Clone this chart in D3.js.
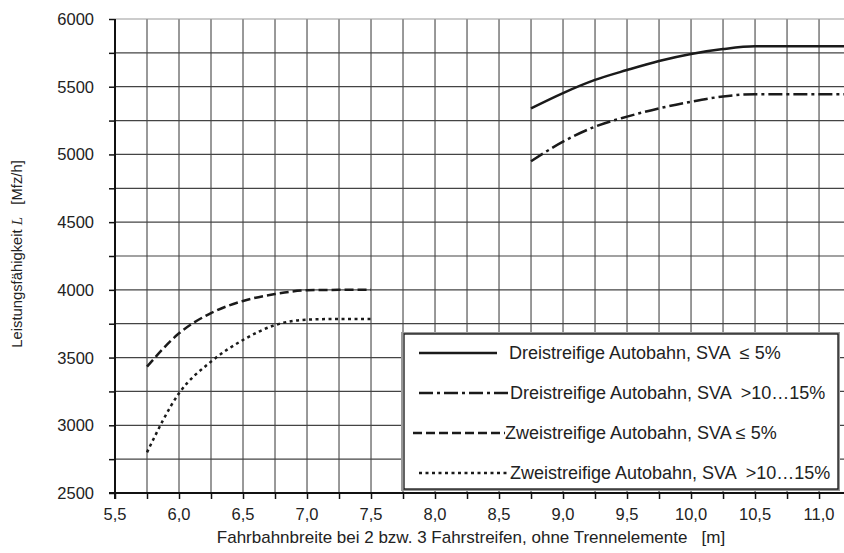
<!DOCTYPE html>
<html>
<head>
<meta charset="utf-8">
<script src="https://cdn.jsdelivr.net/npm/d3@7"></script>
<style>
  body { margin: 0; background: #fff; }
  text { font-family: "Liberation Sans", Arial, sans-serif; fill: #222; white-space: pre; }
</style>
</head>
<body>
<svg width="844" height="553"></svg>
<script>
// Fahrbahnbreite [m]
const xThree = [8.75, 9.0, 9.25, 9.5, 9.75, 10.0, 10.25, 10.5, 11.2]
const xTwo = [5.75, 6.0, 6.25, 6.5, 6.75, 7.0, 7.25, 7.5]

// Leistungsfaehigkeit [Mfz/h]
const dreiLow = [5340, 5453, 5550, 5623, 5690, 5742, 5778, 5798, 5798]
const dreiHigh = [4950, 5094, 5205, 5279, 5340, 5389, 5428, 5445, 5445]
const zweiLow = [3433, 3679, 3829, 3918, 3969, 3997, 4000, 4000]
const zweiHigh = [2800, 3236, 3470, 3630, 3740, 3780, 3785, 3785]

const legendLabels = [
  "Dreistreifige Autobahn, SVA  \u2264 5%",
  "Dreistreifige Autobahn, SVA  >10\u202615%",
  "Zweistreifige Autobahn, SVA \u2264 5%",
  "Zweistreifige Autobahn, SVA  >10\u202615%"
]
const xTickVals = [5.5, 6.0, 6.5, 7.0, 7.5, 8.0, 8.5, 9.0, 9.5, 10.0, 10.5, 11.0]
const yTickVals = [2500, 3000, 3500, 4000, 4500, 5000, 5500, 6000]

var svg = d3.select("svg")
const mLeft = 115, mTop = 19, mRight = 844, mBottom = 493

const xScale = d3.scaleLinear().domain([5.5, 11.195]).range([mLeft, mRight])
const yScale = d3.scaleLinear().domain([2500, 6000]).range([mBottom, mTop])

// grid
const xGrid = d3.range(5.75, 11.2, 0.25)
const yGrid = d3.range(2750, 6001, 250)

svg.append("g").selectAll("line").data(xGrid).join("line")
  .attr("x1", d => xScale(d)).attr("x2", d => xScale(d))
  .attr("y1", mTop).attr("y2", mBottom)
  .attr("stroke", "#555").attr("stroke-width", 1.2)

svg.append("g").selectAll("line").data(yGrid).join("line")
  .attr("x1", mLeft).attr("x2", mRight)
  .attr("y1", d => yScale(d)).attr("y2", d => yScale(d))
  .attr("stroke", d => d == 6000 ? "#999" : "#444").attr("stroke-width", 1.2)

// axes
const xAxis = d3.axisBottom(xScale).tickValues(d3.range(5.5, 11.2, 0.25))
  .tickSize(6).tickFormat("")
const yAxis = d3.axisLeft(yScale).tickValues(d3.range(2500, 6001, 250))
  .tickSize(6).tickFormat("")

const gx = svg.append("g").attr("transform", `translate(0,${mBottom})`).call(xAxis)
gx.select(".domain").remove()
gx.selectAll("line").attr("stroke", "#111").attr("stroke-width", 1.5)
svg.append("line").attr("x1", mLeft - 6).attr("x2", mRight)
  .attr("y1", mBottom).attr("y2", mBottom).attr("stroke", "#111").attr("stroke-width", 2)

const gy = svg.append("g").attr("transform", `translate(${mLeft},0)`).call(yAxis)
gy.select(".domain").remove()
gy.selectAll("line").attr("stroke", "#111").attr("stroke-width", 1.5)
svg.append("line").attr("x1", mLeft).attr("x2", mLeft)
  .attr("y1", mTop).attr("y2", mBottom + 6).attr("stroke", "#111").attr("stroke-width", 2)

svg.append("g").selectAll("text").data(xTickVals).join("text")
  .attr("x", d => xScale(d)).attr("y", mBottom + 27)
  .attr("text-anchor", "middle").attr("font-size", 16.5)
  .text(d => d.toFixed(1).replace(".", ","))

svg.append("g").selectAll("text").data(yTickVals).join("text")
  .attr("x", mLeft - 21).attr("y", d => yScale(d) + 6)
  .attr("text-anchor", "end").attr("font-size", 16.5)
  .text(d => d)

// axis titles
svg.append("text").attr("x", 471).attr("y", 543)
  .attr("text-anchor", "middle").attr("font-size", 17)
  .text("Fahrbahnbreite bei 2 bzw. 3 Fahrstreifen, ohne Trennelemente   [m]")

const yl = svg.append("text").attr("transform", "translate(22,254) rotate(-90)")
  .attr("text-anchor", "middle").attr("font-size", 14.8)
yl.append("tspan").text("Leistungsfähigkeit ")
yl.append("tspan").attr("font-style", "italic").attr("font-family", "Liberation Serif, serif").text("L")
yl.append("tspan").text("   [Mfz/h]")

// curves
const styles = [
  {xs: xThree, ys: dreiLow, dash: null},
  {xs: xThree, ys: dreiHigh, dash: "14,4,3,4"},
  {xs: xTwo, ys: zweiLow, dash: "9,4"},
  {xs: xTwo, ys: zweiHigh, dash: "3,3.5"}
]
const line = d3.line().x(d => xScale(d[0])).y(d => yScale(d[1])).curve(d3.curveMonotoneX)

styles.forEach(s => {
  svg.append("path")
    .attr("d", line(s.xs.map((x, i) => [x, s.ys[i]])))
    .attr("fill", "none").attr("stroke", "#1a1a1a").attr("stroke-width", 2.5)
    .attr("stroke-dasharray", s.dash)
})

// legend
const lg = svg.append("g")
lg.append("rect").attr("x", 402).attr("y", 333).attr("width", 437).attr("height", 157)
  .attr("fill", "#fff").attr("stroke", "#999").attr("stroke-width", 2)
lg.append("rect").attr("x", 404).attr("y", 334).attr("width", 434).attr("height", 155)
  .attr("fill", "none").attr("stroke", "#111").attr("stroke-width", 1.3)

const legX = [[419, 497], [419, 508], [413, 505], [419, 507]]
const legTextX = [509, 510, 505, 510]
legendLabels.forEach((t, i) => {
  const yy = 353 + i * 40
  lg.append("line").attr("x1", legX[i][0]).attr("x2", legX[i][1])
    .attr("y1", yy).attr("y2", yy)
    .attr("stroke", "#1a1a1a").attr("stroke-width", 2.5)
    .attr("stroke-dasharray", styles[i].dash)
  lg.append("text").attr("x", legTextX[i]).attr("y", yy + 6)
    .attr("font-size", 18).text(t)
})
</script>
</body>
</html>
